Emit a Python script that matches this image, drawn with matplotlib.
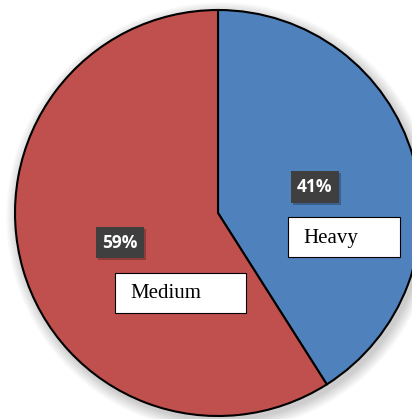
import matplotlib
matplotlib.use("Agg")
import matplotlib.pyplot as plt
from matplotlib.patches import Rectangle, Circle

categories = ["Heavy", "Medium"]
shares = [41, 59]
colors = ["#4F81BD", "#C0504D"]

W, H = 412, 419
fig = plt.figure(figsize=(W / 100, H / 100), dpi=100)
ax = fig.add_axes([0, 0, 1, 1])
ax.set_xlim(0, W)
ax.set_ylim(0, H)
ax.set_aspect("equal")
ax.axis("off")

cx, cy, r = 218, H - 213, 203

# soft drop shadow under the pie
for i in range(10):
    ax.add_patch(Circle((cx + 3, cy - 4), r + 1 + i * 1.2, color="#000000",
                        alpha=0.018, lw=0, zorder=0))

ax.pie(shares, colors=colors, startangle=90, counterclock=False,
       center=(cx, cy), radius=r, frame=True,
       wedgeprops=dict(edgecolor="black", linewidth=1.5))
ax.set_xlim(0, W)
ax.set_ylim(0, H)
ax.axis("off")

# percentage badges: (left, top, width, height) in pixels
badges = [(291, 171, 48, 32), (96, 227, 48, 31)]
# category name boxes
name_boxes = [(288, 217, 112, 40), (115, 273, 131, 40)]

for v, (bx, by, bw, bh) in zip(shares, badges):
    ax.add_patch(Rectangle((bx + 2, H - by - bh - 2), bw, bh, facecolor="#000000",
                           alpha=0.25, lw=0, zorder=4))
    ax.add_patch(Rectangle((bx, H - by - bh), bw, bh, facecolor="#3F3F3F",
                           lw=0, zorder=5))
    ax.text(bx + bw / 2, H - by - bh / 2, f"{v}%", color="white",
            fontsize=12.5, fontweight="bold", family="Open Sans",
            ha="center", va="center", zorder=6)

for name, (bx, by, bw, bh) in zip(categories, name_boxes):
    ax.add_patch(Rectangle((bx, H - by - bh), bw, bh, facecolor="white",
                           edgecolor="black", lw=0.8, zorder=5))
    ax.text(bx + 15, H - by - bh / 2 - 1, name, color="black",
            fontsize=15, family="Liberation Serif",
            ha="left", va="center", zorder=6)

fig.savefig("out.png", dpi=100)
